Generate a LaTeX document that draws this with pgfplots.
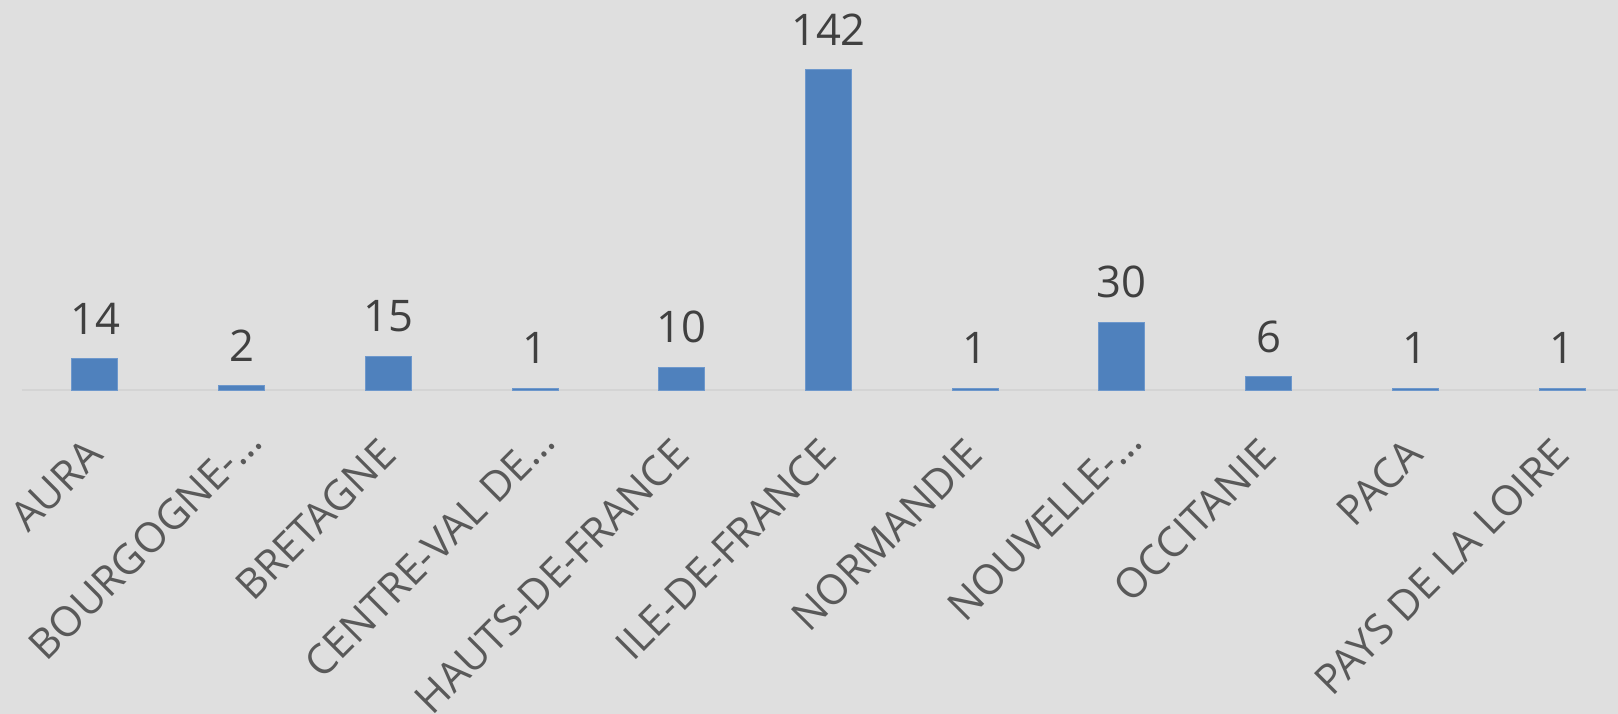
\documentclass[border=0pt]{standalone}
\usepackage{pgfplots}
\pgfplotsset{compat=1.18}
\usepackage{fontspec}
\setmainfont{Open Sans}
\definecolor{bg}{RGB}{223,223,223}
\definecolor{barblue}{RGB}{79,129,189}
\definecolor{baredge}{RGB}{110,152,204}
\definecolor{numtxt}{RGB}{64,64,64}
\definecolor{cattxt}{RGB}{89,89,89}
\definecolor{baseline}{RGB}{212,212,212}
\newcommand{\trunc}{…\kern-1.8mm}
\begin{document}
\begin{tikzpicture}
\useasboundingbox (0,0) rectangle (161.8mm,71.4mm);
\clip (0,0) rectangle (161.8mm,71.4mm);
\fill[bg] (0,0) rectangle (161.8mm,71.4mm);
\begin{axis}[
  at={(2.165mm,32.35mm)}, anchor=south west,
  scale only axis, width=161.37mm, height=33.86mm,
  xmin=-0.5, xmax=10.5, ymin=0, ymax=150,
  enlargelimits=false,
  axis y line=none, axis x line=bottom,
  x axis line style={draw=baseline, line width=0.2mm, -},
  ytick=\empty,
  xtick={0,...,10},
  major tick length=0pt,
  xticklabels={AURA,BOURGOGNE-\trunc,BRETAGNE,CENTRE-VAL DE\trunc,HAUTS-DE-FRANCE,ILE-DE-FRANCE,NORMANDIE,NOUVELLE-\trunc,OCCITANIE,PACA,PAYS DE LA LOIRE},
  xticklabel style={yshift=-5.6mm, rotate=45, anchor=east, inner sep=0pt, text=cattxt, font=\fontsize{11.8}{14}\selectfont},
  ybar, bar width=4.6mm,
  nodes near coords,
  /pgf/number format/assume math mode=true,
  every node near coord/.append style={font=\fontsize{12.4}{15}\selectfont, text=numtxt, inner sep=0pt, anchor=south, yshift=2.4mm},
]
\addplot[fill=barblue, draw=baredge, line width=0.1mm] coordinates {
  (0,14) (1,2) (2,15) (3,1) (4,10) (5,142) (6,1) (7,30) (8,6) (9,1) (10,1)
};
\end{axis}
\end{tikzpicture}
\end{document}
